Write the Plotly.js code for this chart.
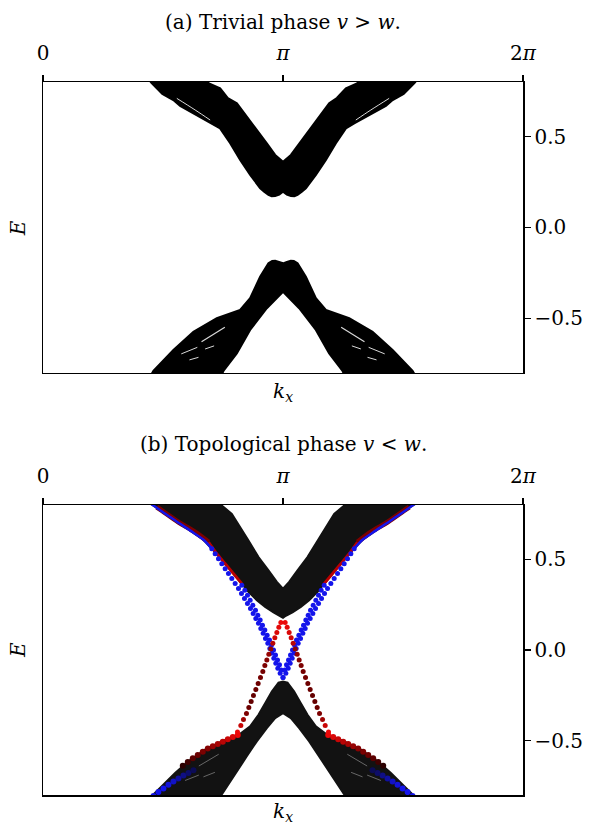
<!DOCTYPE html>
<html>
<head>
<meta charset="utf-8">
<script src="https://cdn.plot.ly/plotly-3.0.1.min.js"></script>
<style>html,body{margin:0;padding:0;background:#fff;}#plot{width:591px;height:825px;}</style>
</head>
<body>
<div id="plot"></div>
<script>
// ---------- axis ticks ----------
const kTickVals = [0, Math.PI, 2 * Math.PI];
const kTickText = ['0', '<i>π</i>', '2<i>π</i>'];
const eTickVals = [-0.5, 0, 0.5];
const eTickText = ['−0.5', '0.0', '0.5'];

// ---------- (a) trivial phase: bulk band outlines (k, E) ----------
const aUpperK = [1.337,1.422,1.562,1.706,1.795,1.968,2.057,2.210,2.318,2.450,2.581,2.712,2.843,2.895,2.951,2.993,3.039,3.092,3.142,3.192,3.245,3.290,3.332,3.388,3.441,3.572,3.703,3.834,3.965,4.074,4.226,4.315,4.488,4.577,4.721,4.862,4.947,
                 4.122,4.117,3.965,3.846,3.746,3.615,3.484,3.353,3.245,3.142,3.039,2.930,2.800,2.669,2.538,2.420,2.319,2.166,2.162];
const aUpperE = [0.838,0.794,0.734,0.701,0.668,0.628,0.608,0.573,0.545,0.463,0.371,0.289,0.2155,0.196,0.179,0.1715,0.173,0.181,0.197,0.181,0.173,0.1715,0.179,0.196,0.2155,0.289,0.371,0.463,0.545,0.573,0.608,0.628,0.668,0.701,0.734,0.794,0.838,
                 0.838,0.793,0.765,0.712,0.683,0.609,0.536,0.463,0.399,0.362,0.399,0.463,0.536,0.609,0.683,0.712,0.765,0.793,0.838];
const aLowerK = [1.376,1.445,1.707,1.969,2.275,2.580,2.711,2.842,2.951,3.000,3.039,3.092,3.142,3.192,3.244,3.283,3.332,3.441,3.572,3.703,4.008,4.314,4.576,4.838,4.908,
                 3.978,3.921,3.746,3.572,3.353,3.142,2.930,2.711,2.537,2.362,2.306];
const aLowerE = [-0.838,-0.789,-0.673,-0.573,-0.499,-0.4535,-0.389,-0.2705,-0.197,-0.1835,-0.1825,-0.189,-0.197,-0.189,-0.1825,-0.1835,-0.197,-0.2705,-0.389,-0.4535,-0.499,-0.573,-0.673,-0.789,-0.838,
                 -0.838,-0.789,-0.692,-0.5635,-0.444,-0.353,-0.444,-0.5635,-0.692,-0.789,-0.838];
// thin gaps between the sub-bands inside the lobes of (a)
const aStreakUL_K = [1.752,1.992,2.188];
const aStreakUR_K = [4.531,4.291,4.095];
const aStreakU_E  = [0.710,0.646,0.591];
const aStreak1L_K = [2.075,2.380], aStreak1R_K = [4.208,3.903], aStreak1E = [-0.628,-0.549];
const aStreak2L_K = [1.810,2.020], aStreak2R_K = [4.473,4.263], aStreak2E = [-0.695,-0.659];
const aStreak3L_K = [1.917,2.035], aStreak3R_K = [4.366,4.248], aStreak3E = [-0.728,-0.714];
const aStreak4L_K = [2.122,2.240], aStreak4R_K = [4.161,4.043], aStreak4E = [-0.668,-0.651];

// ---------- (b) topological phase: bulk band outlines ----------
const bUpperK = [1.3803,1.4458,1.6204,1.7950,1.9696,2.1005,2.2097,2.2751,2.3843,2.4934,2.6025,2.6898,2.7989,2.9081,3.0172,3.1045,3.1416,3.1787,3.2660,3.3751,3.4843,3.5934,3.6807,3.7898,3.8989,4.0081,4.0735,4.1827,4.3136,4.4882,4.6628,4.8374,4.9029,
                 3.9644,3.9426,3.8116,3.7025,3.5934,3.4624,3.3315,3.2224,3.1416,3.0608,2.9517,2.8208,2.6898,2.5807,2.4716,2.3406,2.3188];
const bUpperE = [0.8155,0.7971,0.7458,0.6963,0.6469,0.6084,0.5589,0.5314,0.4764,0.4215,0.3665,0.3207,0.2749,0.2382,0.2071,0.1888,0.1777,0.1888,0.2071,0.2382,0.2749,0.3207,0.3665,0.4215,0.4764,0.5314,0.5589,0.6084,0.6469,0.6963,0.7458,0.7971,0.8155,
                 0.8246,0.7971,0.7513,0.6780,0.6047,0.5131,0.4398,0.3757,0.3390,0.3757,0.4398,0.5131,0.6047,0.6780,0.7513,0.7971,0.8246];
const bLowerK = [1.3801,1.4456,1.5547,1.7293,1.9039,2.1222,2.3404,2.5805,2.7114,2.8206,2.9079,2.9952,3.0825,3.1416,3.2007,3.2880,3.3753,3.4626,3.5718,3.7027,3.9428,4.1610,4.3793,4.5539,4.7285,4.8376,4.9031,
                 3.9856,3.9428,3.8555,3.7463,3.6154,3.4844,3.3535,3.2444,3.1416,3.0388,2.9297,2.7988,2.6678,2.5369,2.4277,2.3404,2.2976];
const bLowerE = [-0.8338,-0.7971,-0.7513,-0.6780,-0.6139,-0.5498,-0.5039,-0.4618,-0.4215,-0.3573,-0.2932,-0.2291,-0.1796,-0.1741,-0.1796,-0.2291,-0.2932,-0.3573,-0.4215,-0.4618,-0.5039,-0.5498,-0.6139,-0.6780,-0.7513,-0.7971,-0.8338,
                 -0.8338,-0.7971,-0.7422,-0.6689,-0.5864,-0.5039,-0.4306,-0.3757,-0.3482,-0.3757,-0.4306,-0.5039,-0.5864,-0.6689,-0.7422,-0.7971,-0.8338];
const bStreak1L_K = [2.040,2.300], bStreak1R_K = [4.243,3.983], bStreak1E = [-0.640,-0.575];
const bStreak2L_K = [1.860,2.040], bStreak2R_K = [4.423,4.243], bStreak2E = [-0.720,-0.690];
const bStreak3L_K = [2.100,2.250], bStreak3R_K = [4.183,4.033], bStreak3E = [-0.700,-0.675];

// ---------- (b) edge states in the gap ----------
const blueALeftK  = [2.2097,2.2533,2.2970,2.3406,2.3843,2.4279,2.4716,2.5152,2.5589,2.5982,2.6375,2.6767,2.7160,2.7509,2.7858,2.8208,2.8513,2.8819,2.9124,2.9430,2.9692,2.9954,3.0216,3.0478,3.0739,3.1045,3.1416];
const blueARightK = [4.0735,4.0299,3.9862,3.9426,3.8989,3.8553,3.8116,3.7680,3.7243,3.6850,3.6457,3.6065,3.5672,3.5323,3.4974,3.4624,3.4319,3.4013,3.3708,3.3402,3.3140,3.2878,3.2616,3.2354,3.2093,3.1787,3.1416];
const blueAE      = [0.559,0.531,0.504,0.476,0.449,0.422,0.394,0.367,0.339,0.312,0.284,0.257,0.229,0.202,0.174,0.147,0.119,0.092,0.064,0.037,0.009,-0.018,-0.046,-0.073,-0.101,-0.128,-0.152];
const blueBLeftK  = [2.6025,2.6418,2.6767,2.7116,2.7466,2.7815,2.8120,2.8426,2.8731,2.9037,2.9343,2.9648,2.9910,3.0172,3.0434,3.0696,3.0958,3.1176];
const blueBRightK = [3.6807,3.6414,3.6065,3.5716,3.5366,3.5017,3.4712,3.4406,3.4101,3.3795,3.3489,3.3184,3.2922,3.2660,3.2398,3.2136,3.1874,3.1656];
const blueBE      = [0.357,0.330,0.302,0.275,0.247,0.220,0.192,0.165,0.137,0.110,0.082,0.055,0.027,0.000,-0.027,-0.055,-0.082,-0.110];
const redLeftK  = [3.1132,3.0870,3.0608,3.0347,3.0085,2.9823,2.9561,2.9299,2.9037,2.8775,2.8470,2.8164,2.7859,2.7553,2.7247,2.6942,2.6636,2.6243,2.5894,2.5458];
const redRightK = [3.1700,3.1962,3.2224,3.2485,3.2747,3.3009,3.3271,3.3533,3.3795,3.4057,3.4362,3.4668,3.4973,3.5279,3.5585,3.5890,3.6196,3.6589,3.6938,3.7374];
const redE      = [0.152,0.125,0.097,0.068,0.037,0.006,-0.024,-0.055,-0.086,-0.119,-0.152,-0.185,-0.218,-0.251,-0.284,-0.317,-0.350,-0.383,-0.416,-0.453];
const redW      = [1.0,0.95,0.9,0.85,0.7,0.45,0.5,0.4,0.35,0.3,0.3,0.25,0.25,0.2,0.2,0.25,0.35,0.55,0.8,1.0];

// ---------- (b) edge weight along the band lobes ----------
const lobeBlueLeftK  = [1.3803,1.4458,1.6204,1.7950,1.9696,2.1005,2.2097];
const lobeBlueRightK = [4.9029,4.8374,4.6628,4.4882,4.3136,4.1827,4.0735];
const lobeBlueE      = [0.8155,0.7971,0.7458,0.6963,0.6469,0.6084,0.5589];
const lobeRedLeftK   = [1.4894,1.5549,1.7731,1.9914,2.1660];
const lobeRedRightK  = [4.7938,4.7283,4.5101,4.2918,4.1172];
const lobeRedE       = [0.7880,0.7696,0.7055,0.6505,0.5956];
const stripRedLeftK  = [2.1660,2.2751,2.3843,2.4934,2.6025];
const stripRedRightK = [4.1172,4.0081,3.8989,3.7898,3.6807];
const stripRedE      = [0.5956,0.5314,0.4764,0.4215,0.3665];
const lowRedLeftK  = [2.5499,2.4844,2.4190,2.3535,2.2880,2.2225,2.1571,2.0916,2.0261,1.9607,1.8952,1.8297];
const lowRedRightK = [3.7333,3.7988,3.8642,3.9297,3.9952,4.0607,4.1261,4.1916,4.2571,4.3225,4.3880,4.4535];
const lowRedE      = [-0.469,-0.480,-0.493,-0.506,-0.519,-0.531,-0.544,-0.561,-0.579,-0.597,-0.618,-0.638];
const lowRedW      = [1,0.9,0.8,0.7,0.6,0.5,0.4,0.33,0.25,0.18,0.1,0.05];
const lowBlueLeftK  = [1.4456,1.5110,1.5765,1.6420,1.7075,1.7729,1.8384,1.9039,1.9694];
const lowBlueRightK = [4.8376,4.7722,4.7067,4.6412,4.5757,4.5103,4.4448,4.3793,4.3138];
const lowBlueE      = [-0.806,-0.784,-0.764,-0.744,-0.726,-0.709,-0.693,-0.678,-0.663];
const lowBlueW      = [1,1,1,0.9,0.8,0.6,0.45,0.3,0.2];

// ---------- styling ----------
const FONT = 'DejaVu Serif';
const redScale  = [[0,'rgb(25,0,0)'],[0.2,'rgb(100,0,0)'],[1,'rgb(235,8,8)']];
const blueScale = [[0,'rgb(10,10,50)'],[1,'rgb(20,20,235)']];
const BLUE = 'rgb(20,20,235)';

function band(k, e, xa, ya, col) {
  return {type:'scatter', mode:'lines', x:k, y:e, xaxis:xa, yaxis:ya, fill:'toself',
          fillcolor:col, line:{color:col, width:2}, hoverinfo:'skip', showlegend:false};
}
function dots(k, e, color, size, w, scale) {
  const m = {size:size, line:{width:0}};
  if (w) { m.color = w; m.colorscale = scale; m.cmin = 0; m.cmax = 1; } else { m.color = color; }
  return {type:'scatter', mode:'markers', x:k, y:e, xaxis:'x2', yaxis:'y2', marker:m,
          hoverinfo:'skip', showlegend:false, cliponaxis:true};
}
function line(k, e, color, width, xa, ya) {
  return {type:'scatter', mode:'lines', x:k, y:e, xaxis:xa || 'x2', yaxis:ya || 'y2',
          line:{color:color, width:width, shape:'spline'}, hoverinfo:'skip', showlegend:false};
}
const GAP = 'rgba(255,255,255,0.85)';
const GAPB = 'rgba(160,160,160,0.6)';

const traces = [
  band(aUpperK, aUpperE, 'x', 'y', '#000'),
  band(aLowerK, aLowerE, 'x', 'y', '#000'),
  line(aStreakUL_K, aStreakU_E, GAP, 1, 'x', 'y'),
  line(aStreakUR_K, aStreakU_E, GAP, 1, 'x', 'y'),
  line(aStreak1L_K, aStreak1E, GAP, 1.2, 'x', 'y'),
  line(aStreak1R_K, aStreak1E, GAP, 1.2, 'x', 'y'),
  line(aStreak2L_K, aStreak2E, GAP, 1, 'x', 'y'),
  line(aStreak2R_K, aStreak2E, GAP, 1, 'x', 'y'),
  line(aStreak3L_K, aStreak3E, GAP, 1, 'x', 'y'),
  line(aStreak3R_K, aStreak3E, GAP, 1, 'x', 'y'),
  line(aStreak4L_K, aStreak4E, GAP, 1, 'x', 'y'),
  line(aStreak4R_K, aStreak4E, GAP, 1, 'x', 'y'),
  band(bUpperK, bUpperE, 'x2', 'y2', '#121212'),
  band(bLowerK, bLowerE, 'x2', 'y2', '#121212'),
  line(bStreak1L_K, bStreak1E, GAPB, 1),
  line(bStreak1R_K, bStreak1E, GAPB, 1),
  line(bStreak2L_K, bStreak2E, GAPB, 1),
  line(bStreak2R_K, bStreak2E, GAPB, 1),
  line(bStreak3L_K, bStreak3E, GAPB, 1),
  line(bStreak3R_K, bStreak3E, GAPB, 1),
  line(lobeRedLeftK, lobeRedE, 'rgb(125,0,0)', 5),
  line(lobeRedRightK, lobeRedE, 'rgb(125,0,0)', 5),
  line(stripRedLeftK, stripRedE, 'rgb(185,0,0)', 3),
  line(stripRedRightK, stripRedE, 'rgb(185,0,0)', 3),
  line(lobeBlueLeftK, lobeBlueE, BLUE, 2.5),
  line(lobeBlueRightK, lobeBlueE, BLUE, 2.5),
  dots(lowBlueLeftK, lowBlueE, null, 6, lowBlueW, blueScale),
  dots(lowBlueRightK, lowBlueE, null, 6, lowBlueW, blueScale),
  dots(lowRedLeftK, lowRedE, null, 6, lowRedW, redScale),
  dots(lowRedRightK, lowRedE, null, 6, lowRedW, redScale),
  dots(blueALeftK, blueAE, BLUE, 5),
  dots(blueARightK, blueAE, BLUE, 5),
  dots(blueBLeftK, blueBE, BLUE, 5),
  dots(blueBRightK, blueBE, BLUE, 5),
  dots(redLeftK, redE, null, 5, redW, redScale),
  dots(redRightK, redE, null, 5, redW, redScale)
];

function xAxis(anchor) {
  return {anchor:anchor, domain:[0,1], range:[0, 2*Math.PI], side:'top',
          tickmode:'array', tickvals:kTickVals, ticktext:kTickText,
          ticks:'outside', ticklen:6, tickwidth:1.5, tickcolor:'#000',
          showline:true, linecolor:'#000', linewidth:1.5, mirror:true,
          showgrid:false, zeroline:false, ticklabelstandoff:7,
          tickfont:{family:FONT, size:20, color:'#000'}, fixedrange:true};
}
function yAxis(anchor, dom) {
  return {anchor:anchor, domain:dom, range:[-0.8, 0.8], side:'right',
          tickmode:'array', tickvals:eTickVals, ticktext:eTickText,
          ticks:'outside', ticklen:6, tickwidth:1.5, tickcolor:'#000',
          showline:true, linecolor:'#000', linewidth:1.5, mirror:true,
          showgrid:false, zeroline:false,
          tickfont:{family:FONT, size:20, color:'#000'}, fixedrange:true};
}

const ann = (text, x, y, extra) => Object.assign({xref:'paper', yref:'paper', x:x, y:y,
  text:text, showarrow:false, xanchor:'center', yanchor:'middle',
  font:{family:FONT, size:20, color:'#000'}}, extra || {});

const layout = {
  width:591, height:825,
  margin:{l:43, r:68, t:82, b:30},
  paper_bgcolor:'#fff', plot_bgcolor:'#fff',
  showlegend:false,
  xaxis: xAxis('y'),
  yaxis: yAxis('x', [0.5919, 1]),
  xaxis2: xAxis('y2'),
  yaxis2: yAxis('x2', [0, 0.4067]),
  annotations: [
    ann('(a) Trivial phase <i>v</i> &gt; <i>w</i>.', 0.5, 1.0842),
    ann('(b) Topological phase <i>v</i> &lt; <i>w</i>.', 0.5, 0.4923),
    ann('<i>E</i>', -0.052, 0.795, {textangle:-90}),
    ann('<i>E</i>', -0.052, 0.2034, {textangle:-90}),
    ann('<i>k</i><sub><i>x</i></sub>', 0.5, 0.5652),
    ann('<i>k</i><sub><i>x</i></sub>', 0.5, -0.0238)
  ]
};

Plotly.newPlot('plot', traces, layout, {staticPlot:true, displayModeBar:false});
</script>
</body>
</html>
